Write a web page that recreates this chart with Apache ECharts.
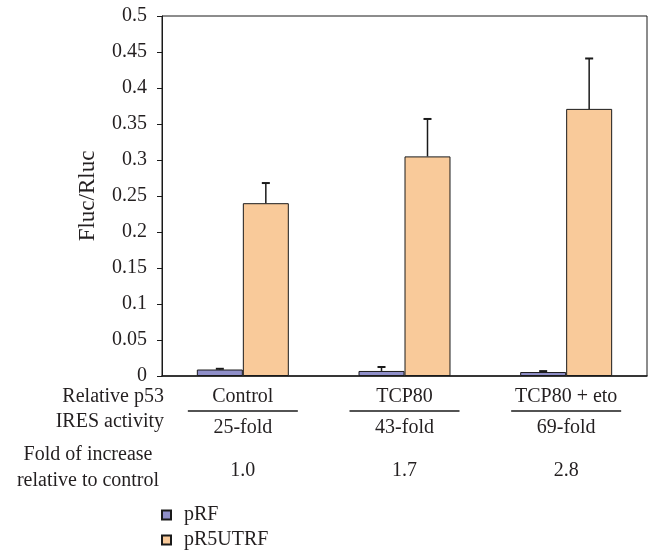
<!DOCTYPE html>
<html>
<head>
<meta charset="utf-8">
<script src="https://cdn.jsdelivr.net/npm/echarts@6/dist/echarts.min.js"></script>
<style>
html,body{margin:0;padding:0;background:#fff;}
#chart{width:648px;height:555px;}
</style>
</head>
<body>
<div id="chart"></div>
<script>
// ---- data ----
const categories = ['Control', 'TCP80', 'TCP80 + eto'];
const foldLabels = ['25-fold', '43-fold', '69-fold'];
const increaseLabels = ['1.0', '1.7', '2.8'];
const seriesNames = ['pRF', 'pR5UTRF'];
const pRF = [0.009, 0.007, 0.0055];
const pRFErr = [0.001, 0.0055, 0.0013];
const pR5UTRF = [0.240, 0.305, 0.371];
const pR5UTRFErr = [0.028, 0.052, 0.070];
const yTicks = [0, 0.05, 0.1, 0.15, 0.2, 0.25, 0.3, 0.35, 0.4, 0.45, 0.5];

const FONT = '"Liberation Serif", "DejaVu Serif", serif';
const TXT = '#231f20';
const BAR_FRAC = 0.2845;

const chart = echarts.init(document.getElementById('chart'));

function errSeries(name, values, errs, side) {
  return {
    type: 'custom',
    name: name + ' err',
    z: 5,
    clip: false,
    encode: { x: 0, y: 1 },
    data: values.map((v, i) => [i, v, errs[i]]),
    renderItem: function (params, api) {
      const idx = api.value(0), v = api.value(1), e = api.value(2);
      const band = api.size([1, 0])[0];
      const bw = band * BAR_FRAC;
      const base = api.coord([idx, v]);
      const top = api.coord([idx, v + e]);
      const x = base[0] + side * bw / 2;
      return {
        type: 'group',
        children: [
          { type: 'line', shape: { x1: x, y1: base[1], x2: x, y2: top[1] }, style: { stroke: '#1a1a1a', lineWidth: 1.5 } },
          { type: 'line', shape: { x1: x - 4, y1: top[1], x2: x + 4, y2: top[1] }, style: { stroke: '#1a1a1a', lineWidth: 2 } }
        ]
      };
    }
  };
}

const option = {
  animation: false,
  backgroundColor: '#fff',
  textStyle: { fontFamily: FONT, color: TXT },
  grid: { left: 162, right: 1, top: 16, bottom: 179, show: true, borderColor: '#1a1a1a', borderWidth: 1, backgroundColor: 'transparent' },
  legend: {
    data: seriesNames,
    orient: 'vertical',
    left: 161,
    top: 505,
    padding: 0,
    itemWidth: 9,
    itemHeight: 9,
    itemGap: 5,
    icon: 'rect',
    textStyle: { fontFamily: FONT, fontSize: 20, color: TXT, padding: [0, 0, 0, 8] }
  },
  xAxis: {
    type: 'category',
    data: categories,
    axisLine: { lineStyle: { color: '#1a1a1a', width: 1.5 } },
    axisTick: { show: false },
    axisLabel: { fontFamily: FONT, fontSize: 20, color: TXT, margin: 11 }
  },
  yAxis: {
    type: 'value',
    min: yTicks[0],
    max: yTicks[yTicks.length - 1],
    interval: 0.05,
    name: 'Fluc/Rluc',
    nameLocation: 'middle',
    nameGap: 63,
    nameTextStyle: { fontFamily: FONT, fontSize: 23, color: TXT },
    splitLine: { show: false },
    axisLine: { show: true, lineStyle: { color: '#1a1a1a', width: 1 } },
    axisTick: { show: true, length: 5, lineStyle: { color: '#1a1a1a' } },
    axisLabel: {
      fontFamily: FONT, fontSize: 20, color: TXT, margin: 15,
      formatter: v => String(parseFloat(v.toFixed(2)))
    }
  },
  series: [
    {
      type: 'bar', name: seriesNames[0], data: pRF, barWidth: (BAR_FRAC * 100) + '%', barGap: '0%',
      itemStyle: { color: '#8f8fc9', borderColor: '#1a1a1a', borderWidth: 1 }
    },
    {
      type: 'bar', name: seriesNames[1], data: pR5UTRF, barWidth: (BAR_FRAC * 100) + '%', barGap: '0%',
      itemStyle: { color: '#f9ca9a', borderColor: '#1a1a1a', borderWidth: 1 }
    },
    errSeries(seriesNames[0], pRF, pRFErr, -1),
    errSeries(seriesNames[1], pR5UTRF, pR5UTRFErr, 1),
    {
      type: 'custom',
      name: 'table',
      clip: false,
      silent: true,
      encode: { x: 0, y: 1 },
      data: categories.map((c, i) => [i, 0]),
      renderItem: function (params, api) {
        const idx = api.value(0);
        const p = api.coord([idx, 0]);
        const x = p[0], y0 = p[1];
        const ts = { fontFamily: FONT, fontSize: 20, fill: TXT, align: 'center', verticalAlign: 'middle' };
        return {
          type: 'group',
          children: [
            { type: 'line', shape: { x1: x - 55, y1: y0 + 35, x2: x + 55, y2: y0 + 35 }, style: { stroke: '#1a1a1a', lineWidth: 1.5 } },
            { type: 'text', x: x, y: y0 + 52, style: Object.assign({ text: foldLabels[idx] }, ts) },
            { type: 'text', x: x, y: y0 + 95, style: Object.assign({ text: increaseLabels[idx] }, ts) }
          ]
        };
      }
    }
  ],
  graphic: [
    { type: 'text', x: 164, y: 397, style: { text: 'Relative p53', font: '20px ' + FONT, fill: TXT, align: 'right', verticalAlign: 'middle' } },
    { type: 'text', x: 164, y: 422, style: { text: 'IRES activity', font: '20px ' + FONT, fill: TXT, align: 'right', verticalAlign: 'middle' } },
    { type: 'text', x: 88, y: 455, style: { text: 'Fold of increase', font: '20px ' + FONT, fill: TXT, align: 'center', verticalAlign: 'middle' } },
    { type: 'text', x: 88, y: 481, style: { text: 'relative to control', font: '20px ' + FONT, fill: TXT, align: 'center', verticalAlign: 'middle' } }
  ]
};
chart.setOption(option);
</script>
</body>
</html>
